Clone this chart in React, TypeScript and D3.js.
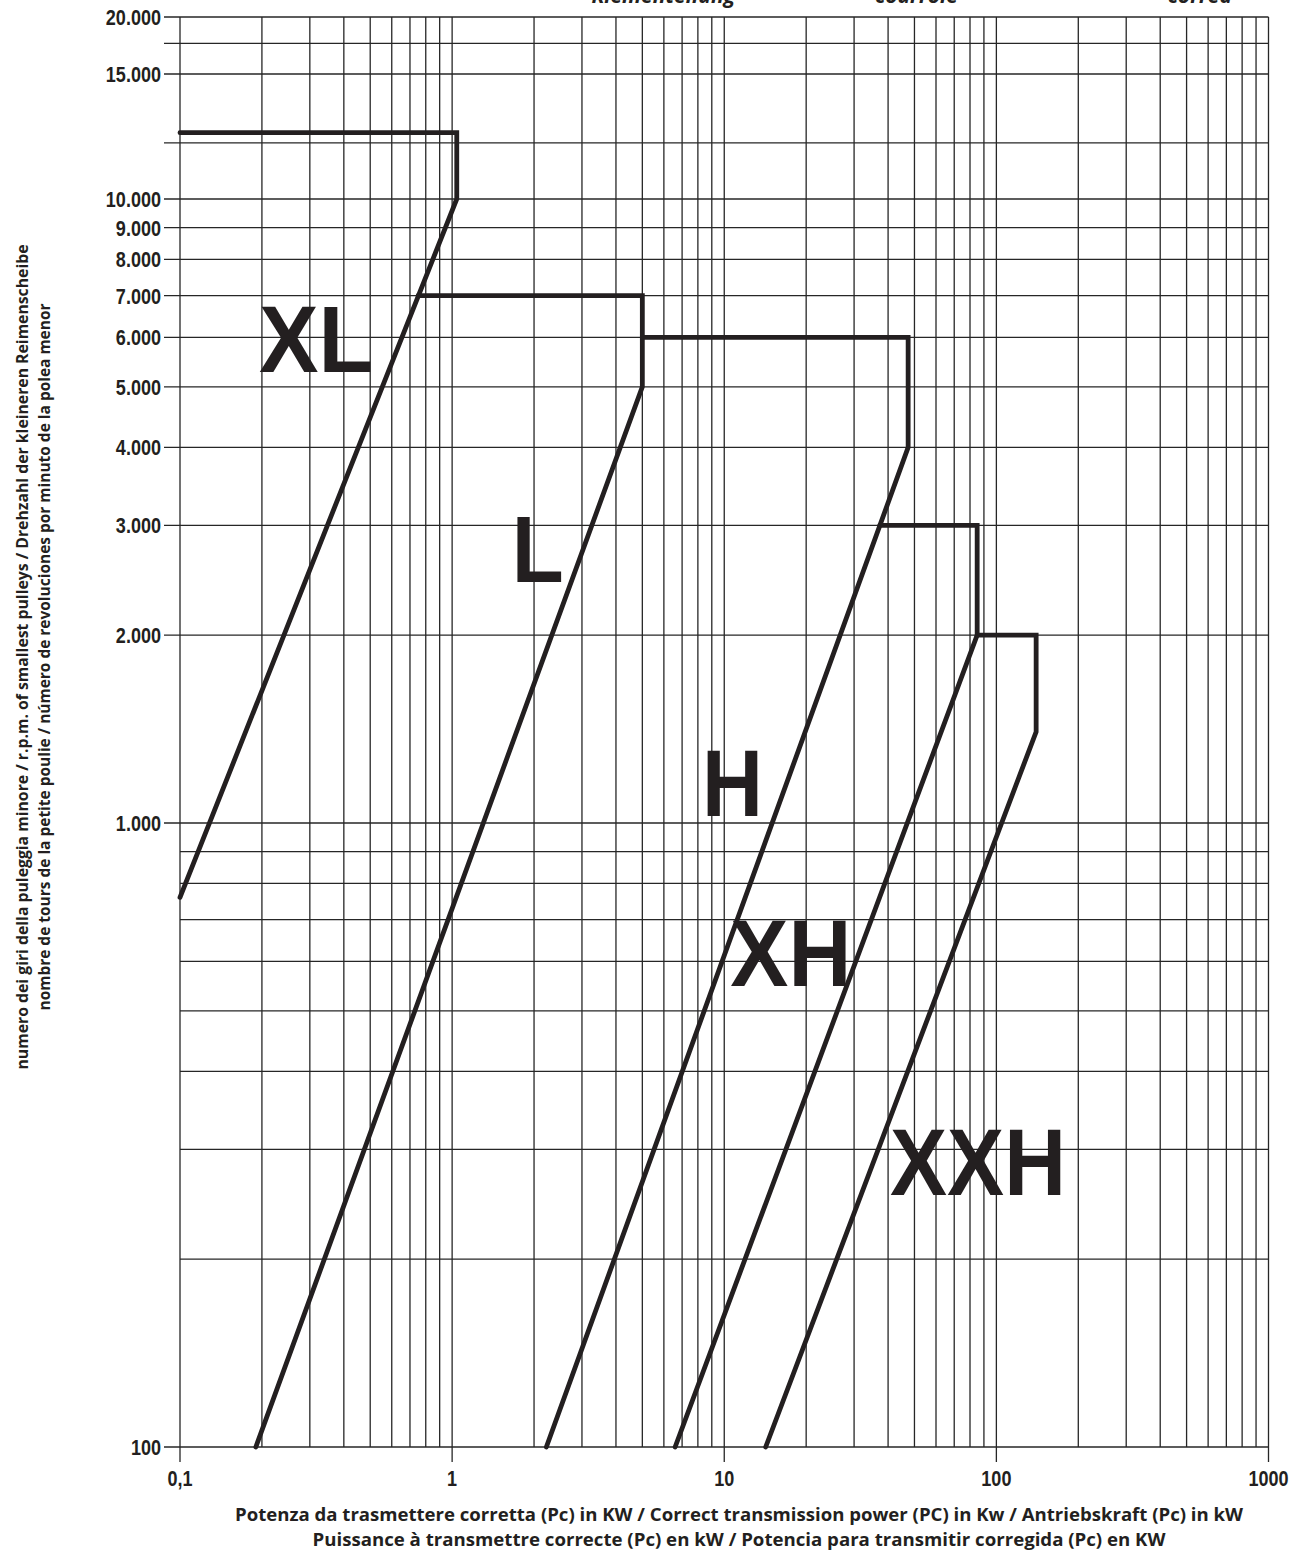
import * as d3 from "d3"
import React, { useEffect, useRef } from "react"

// limit curves per belt section: [corrected power kW, rpm of small pulley]
const xlLimit: [number, number][] = [[0.1, 12400], [1.04, 12400], [1.04, 10000], [0.1, 760]]
const lLimit: [number, number][] = [[0.75, 7000], [5, 7000], [5, 5000], [0.19, 100]]
const hLimit: [number, number][] = [[5, 6000], [47.4, 6000], [47.4, 4000], [2.22, 100]]
const xhLimit: [number, number][] = [[37.3, 3000], [85, 3000], [85, 2000], [6.6, 100]]
const xxhLimit: [number, number][] = [[85, 2000], [140, 2000], [140, 1400], [14.2, 100]]

const sectionNames = ["XL", "L", "H", "XH", "XXH"]
const sectionCurves = [xlLimit, lLimit, hLimit, xhLimit, xxhLimit]
// where the big section names sit (power, rpm of baseline)
const namePower = [0.2, 1.7, 8.5, 10.8, 41.7]
const nameRpm = [5280, 2430, 1028, 549, 253]

const rpmLabels = [100, 1000, 2000, 3000, 4000, 5000, 6000, 7000, 8000, 9000, 10000, 15000, 20000]
const rpmExtraLines = [12000, 17500]
const powerLabels = [0.1, 1, 10, 100, 1000]

const yTitle = [
    "numero dei giri della puleggia minore / r.p.m. of smallest pulleys / Drehzahl der kleineren Reimenscheibe",
    "nombre de tours de la petite poulie / número de revoluciones por minuto de la polea menor"
]
const xTitle = [
    "Potenza da trasmettere corretta (Pc) in KW / Correct transmission power (PC) in Kw / Antriebskraft (Pc) in kW",
    "Puissance à transmettre correcte (Pc) en kW / Potencia para transmitir corregida (Pc) en KW"
]
// bottoms of a title line cut off at the top of the page
const cutWords = ["Riementeilung", "courroie", "correa"]

const W = 1295
const H = 1550
const left = 180
const right = 1268.5
const top = 17
const bottom = 1447
const ink = "#231f20"

const Chart = () => {
    const svgRef = useRef<SVGSVGElement>(null)

    useEffect(() => {
        const svg = d3.select(svgRef.current)
        svg.selectAll("*").remove()

        const x = d3.scaleLog().domain([0.1, 1000]).range([left, right])
        // the rpm paper is log up to 10.000, stretched irregularly above
        const y = d3.scaleLog().domain([100, 10000, 15000, 20000]).range([bottom, 199, 74, top])

        const it = d3.formatLocale({ decimal: ",", thousands: ".", grouping: [3], currency: ["", ""] })
        const fmtRpm = it.format(",")
        const fmtPow = it.format("~")

        const grid = svg.append("g").attr("stroke", "#262626").attr("stroke-width", 1.3)

        // vertical lines
        const xLines = x.ticks()
        grid.selectAll(".vx")
            .data(xLines)
            .join("line")
            .attr("x1", (d) => x(d))
            .attr("x2", (d) => x(d))
            .attr("y1", top)
            .attr("y2", (d) => (powerLabels.includes(+d.toPrecision(3)) ? bottom + 15 : bottom))

        // horizontal lines
        const yLines = [
            ...d3.range(1, 10).map((k) => k * 100),
            ...d3.range(1, 10).map((k) => k * 1000),
            10000, ...rpmExtraLines, 15000, 20000
        ]
        grid.selectAll(".hy")
            .data(yLines)
            .join("line")
            .attr("x1", (d) => (d >= 1000 || d === 100 ? left - 16 : left))
            .attr("x2", right)
            .attr("y1", (d) => y(d))
            .attr("y2", (d) => y(d))

        // y tick labels
        svg.append("g")
            .selectAll("text")
            .data(rpmLabels)
            .join("text")
            .attr("transform", (d) => `translate(161, ${y(d) + 8}) scale(0.82,1)`)
            .attr("text-anchor", "end")
            .attr("font-family", "'Liberation Sans', Arial, sans-serif")
            .attr("font-weight", 700)
            .attr("font-size", 22)
            .attr("fill", ink)
            .text((d) => fmtRpm(d))

        // x tick labels
        svg.append("g")
            .selectAll("text")
            .data(powerLabels)
            .join("text")
            .attr("transform", (d) => `translate(${x(d)}, 1486) scale(0.82,1)`)
            .attr("text-anchor", "middle")
            .attr("font-family", "'Liberation Sans', Arial, sans-serif")
            .attr("font-weight", 700)
            .attr("font-size", 22)
            .attr("fill", ink)
            .text((d) => fmtPow(d))

        // limit curves
        const line = d3.line<[number, number]>()
            .x((d) => x(d[0]))
            .y((d) => y(d[1]))

        svg.append("g")
            .selectAll("path")
            .data(sectionCurves)
            .join("path")
            .attr("d", (d) => line(d))
            .attr("fill", "none")
            .attr("stroke", ink)
            .attr("stroke-width", 4.8)
            .attr("stroke-linecap", "round")
            .attr("stroke-linejoin", "miter")

        // big section names
        const nameWidth = { XL: 114, L: 52, H: 61, XH: 121, XXH: 176 }
        svg.append("g")
            .selectAll("text")
            .data(sectionNames)
            .join("text")
            .attr("x", (d, i) => x(namePower[i]) - 3)
            .attr("y", (d, i) => y(nameRpm[i]))
            .attr("font-family", "'Liberation Sans', Arial, sans-serif")
            .attr("font-weight", 700)
            .attr("font-size", 94)
            .attr("textLength", (d) => nameWidth[d])
            .attr("lengthAdjust", "spacingAndGlyphs")
            .attr("fill", ink)
            .text((d) => d)

        // axis titles
        const title = svg.append("g")
            .attr("font-family", "'Open Sans', 'Noto Sans', sans-serif")
            .attr("font-weight", 700)
            .attr("fill", ink)

        title.selectAll(".yt")
            .data(yTitle)
            .join("text")
            .attr("transform", (d, i) => `translate(${i === 0 ? 28 : 50}, 657) rotate(-90)`)
            .attr("text-anchor", "middle")
            .attr("font-size", 16)
            .attr("textLength", (d, i) => (i === 0 ? 825 : 707))
            .attr("lengthAdjust", "spacingAndGlyphs")
            .text((d) => d)

        title.selectAll(".xt")
            .data(xTitle)
            .join("text")
            .attr("x", 739)
            .attr("y", (d, i) => (i === 0 ? 1521 : 1546))
            .attr("text-anchor", "middle")
            .attr("font-size", 18)
            .attr("textLength", (d, i) => (i === 0 ? 1008 : 853))
            .attr("lengthAdjust", "spacingAndGlyphs")
            .text((d) => d)

        const cutEnds = [735, 958, 1232]
        title.selectAll(".cut")
            .data(cutWords)
            .join("text")
            .attr("x", (d, i) => cutEnds[i])
            .attr("y", 3)
            .attr("text-anchor", "end")
            .attr("font-size", 21)
            .attr("font-style", "italic")
            .text((d) => d)
    }, [])

    return (
        <svg
            ref={svgRef}
            width={W}
            height={H}
            style={{ position: "absolute", left: 0, top: 0, background: "#fff" }}
        ></svg>
    )
}

export default function App() {
    return <Chart />
}
